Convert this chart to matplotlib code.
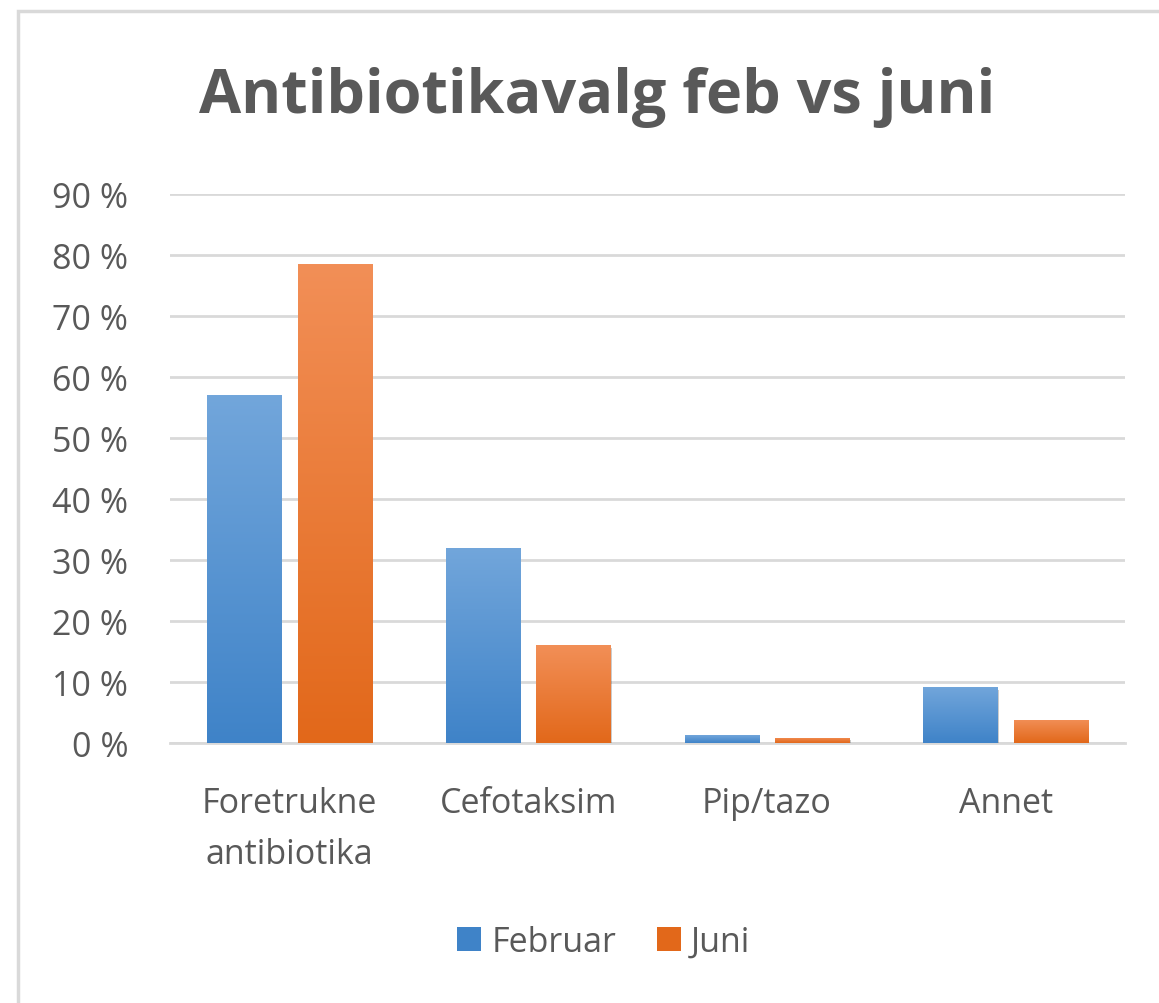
import numpy as np
import matplotlib
matplotlib.use("Agg")
import matplotlib.pyplot as plt
import matplotlib.patheffects as pe
from matplotlib.patches import Rectangle, Patch
from matplotlib.colors import LinearSegmentedColormap

plt.rcParams['font.family'] = ['Open Sans', 'DejaVu Sans']

categories = ['Foretrukne\nantibiotika', 'Cefotaksim', 'Pip/tazo', 'Annet']
februar = [0.57, 0.32, 0.013, 0.092]
juni = [0.785, 0.16, 0.009, 0.038]
series_names = ['Februar', 'Juni']
yticks = [0, 0.1, 0.2, 0.3, 0.4, 0.5, 0.6, 0.7, 0.8, 0.9]

text_col = '#595959'
grid_col = '#d9d9d9'
blue = ('#72a6db', '#3f83c8')   # top, bottom
orange = ('#f28f57', '#e2681a')

fig = plt.figure(figsize=(11.59, 10.04), dpi=100)
fig.patch.set_facecolor('white')

# chart area frame (cut off at right and bottom like the screenshot)
frame = Rectangle((18 / 1159, -0.05), 1.2, 1 - 12 / 1004 + 0.05,
                  transform=fig.transFigure, fill=False,
                  edgecolor='#d9d9d9', linewidth=2.5, zorder=0)
fig.patches.append(frame)

ax = fig.add_axes([170 / 1159, 1 - 744 / 1004, (1125 - 170) / 1159, (744 - 195) / 1004])

x = np.arange(len(categories))
w = 0.31
off = 0.19


def gradient_bars(xpos, vals, cols):
    bars = ax.bar(xpos, vals, w, color=cols[1], zorder=3,
                  path_effects=[pe.SimplePatchShadow(offset=(1, -2), shadow_rgbFace='#000000', alpha=0.2),
                                pe.Normal()])
    cmap = LinearSegmentedColormap.from_list('g', [cols[1], cols[0]])
    grad = np.linspace(0, 1, 256).reshape(-1, 1)
    for b in bars:
        x0, y0 = b.get_x(), b.get_y()
        im = ax.imshow(grad, cmap=cmap, origin='lower', aspect='auto',
                       extent=[x0, x0 + b.get_width(), y0, y0 + b.get_height()],
                       zorder=4, interpolation='bilinear')
        im.set_clip_path(b)
    return bars


gradient_bars(x - off, februar, blue)
gradient_bars(x + off, juni, orange)

ax.set_xlim(-0.5, len(categories) - 0.5)
ax.set_ylim(0, 0.9)
ax.set_yticks(yticks)
ax.set_yticklabels(['%d %%' % round(v * 100) for v in yticks])
ax.set_xticks(x)
ax.set_xticklabels(categories, linespacing=1.65)
ax.tick_params(axis='both', length=0, labelsize=24.5, colors=text_col)
ax.tick_params(axis='y', pad=30)
ax.tick_params(axis='x', pad=31)
ax.grid(axis='y', color=grid_col, linewidth=2, zorder=0)
ax.set_axisbelow(True)
for s in ['top', 'right', 'left']:
    ax.spines[s].set_visible(False)
ax.spines['bottom'].set_color(grid_col)
ax.spines['bottom'].set_linewidth(2)

fig.text(597 / 1159, 1 - 97 / 1004, 'Antibiotikavalg feb vs juni', ha='center', va='center',
         fontsize=44, fontweight='bold', color=text_col)

handles = [Patch(facecolor=blue[1], edgecolor='none'), Patch(facecolor=orange[1], edgecolor='none')]
fig.legend(handles, series_names, loc='center', bbox_to_anchor=(604 / 1159, 1 - 943 / 1004),
           ncol=2, frameon=False, fontsize=24.5, labelcolor=text_col,
           handlelength=0.7, handleheight=0.7, handletextpad=0.3, columnspacing=1.2)

fig.savefig('out.png', dpi=100)
